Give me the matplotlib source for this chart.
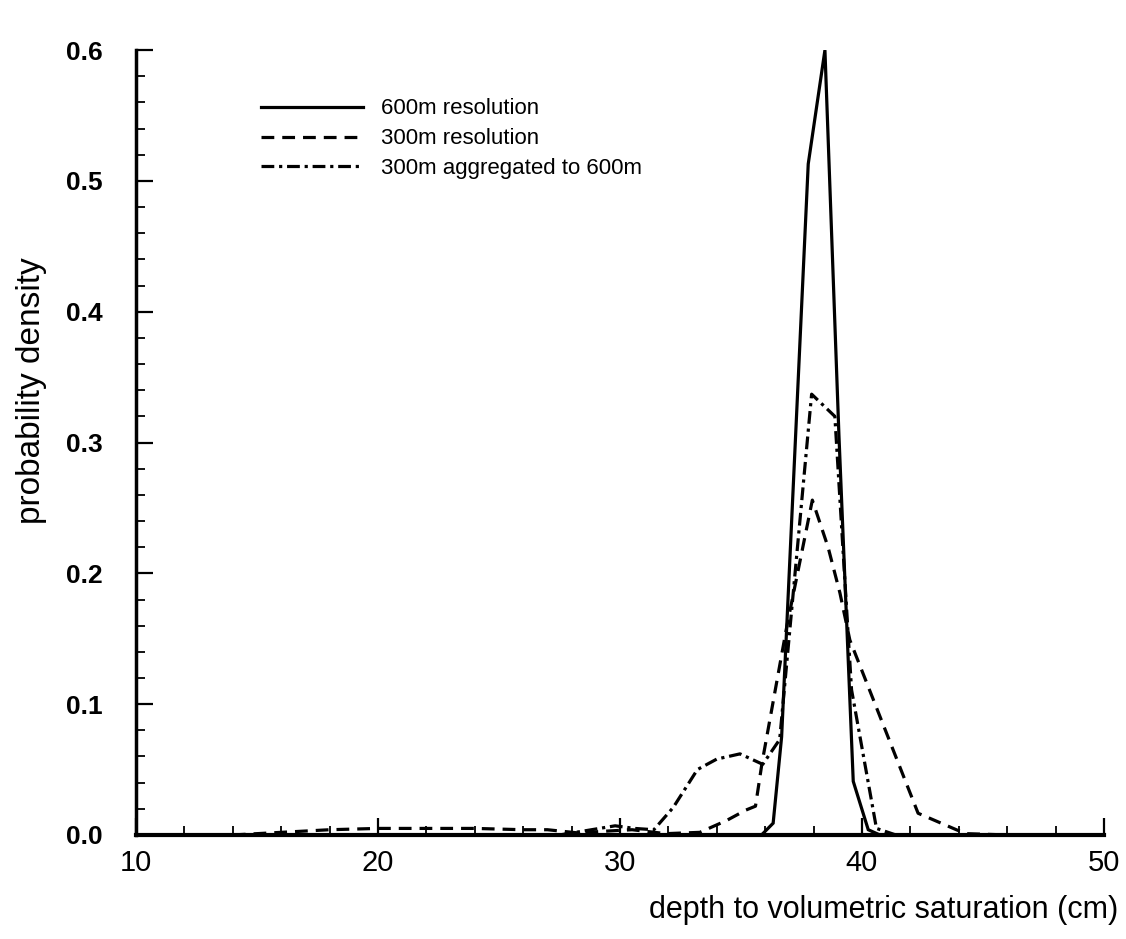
import matplotlib
matplotlib.use("Agg")
import matplotlib.pyplot as plt
from matplotlib.ticker import MultipleLocator, FormatStrFormatter

# 600m resolution
x600 = [10.0, 35.85, 36.33, 36.68, 37.78, 38.47, 39.05, 39.64, 40.26, 40.74, 50.0]
y600 = [0.0, 0.0, 0.009, 0.075, 0.513, 0.600, 0.305, 0.041, 0.004, 0.0, 0.0]

# 300m resolution
x300 = [14.0, 16.0, 18.0, 20.0, 22.0, 24.0, 26.0, 27.0, 28.3, 29.5, 30.5, 31.9,
        33.3, 34.4, 35.2, 35.6, 35.87, 36.9, 37.95, 38.6, 39.09, 39.5, 42.32,
        43.9, 44.3, 46.0, 50.0]
y300 = [0.0, 0.002, 0.004, 0.005, 0.005, 0.005, 0.004, 0.004, 0.0015, 0.003,
        0.004, 0.001, 0.002, 0.011, 0.019, 0.022, 0.055, 0.160, 0.256, 0.220,
        0.185, 0.149, 0.0166, 0.004, 0.001, 0.0, 0.0]

# 300m aggregated to 600m
xagg = [27.5, 28.5, 29.8, 30.6, 31.4, 32.2, 33.2, 34.0, 34.96, 35.9, 36.6,
        37.92, 38.88, 39.57, 40.6, 41.4]
yagg = [0.0, 0.003, 0.007, 0.005, 0.004, 0.021, 0.050, 0.058, 0.062, 0.054,
        0.073, 0.337, 0.320, 0.111, 0.005, 0.0]

series = [
    ("600m resolution", x600, y600, "-"),
    ("300m resolution", x300, y300, (0, (4, 2.5))),
    ("300m aggregated to 600m", xagg, yagg, (0, (4, 1.5, 1, 1.5))),
]

narrow = ["Liberation Sans Narrow", "Liberation Sans", "DejaVu Sans"]
regular = ["Liberation Sans", "DejaVu Sans"]

fig = plt.figure(figsize=(11.26, 9.39), dpi=100)
ax = fig.add_axes([0.1208, 0.1108, 0.8596, 0.8358])

for label, xs, ys, ls in series:
    ax.plot(xs, ys, color="black", lw=2.3, linestyle=ls, label=label,
            solid_joinstyle="miter", dash_capstyle="butt")

ax.set_xlim(10, 50)
ax.set_ylim(0, 0.6)
ax.spines["top"].set_visible(False)
ax.spines["right"].set_visible(False)
ax.spines["left"].set_linewidth(2.5)
ax.spines["bottom"].set_linewidth(3.0)

ax.xaxis.set_major_locator(MultipleLocator(10))
ax.xaxis.set_minor_locator(MultipleLocator(2))
ax.yaxis.set_major_locator(MultipleLocator(0.1))
ax.yaxis.set_minor_locator(MultipleLocator(0.02))
ax.yaxis.set_major_formatter(FormatStrFormatter("%.1f"))

ax.tick_params(which="both", direction="in", top=False, right=False)
ax.tick_params(which="major", length=12, width=1.6)
ax.tick_params(which="minor", length=6.5, width=1.3)
ax.tick_params(axis="x", which="major", pad=10)
ax.tick_params(axis="y", which="major", pad=24)

for t in ax.get_xticklabels():
    t.set_fontfamily(narrow)
    t.set_fontsize(21)
for t in ax.get_yticklabels():
    t.set_fontfamily(regular)
    t.set_fontsize(19)
    t.set_fontweight("bold")

ax.set_xlabel("depth to volumetric saturation (cm)", family=narrow,
              fontsize=22, ha="right")
ax.xaxis.set_label_coords(1.0145, -0.077)
ax.set_ylabel("probability density", family=narrow, fontsize=24)
ax.yaxis.set_label_coords(-0.092, 0.566)

ax.legend(loc="upper left", bbox_to_anchor=(0.108, 0.964), frameon=False,
          handlelength=4.6, handletextpad=0.8, labelspacing=0.4,
          prop={"family": regular, "size": 16})

fig.savefig("out.png", dpi=100)
